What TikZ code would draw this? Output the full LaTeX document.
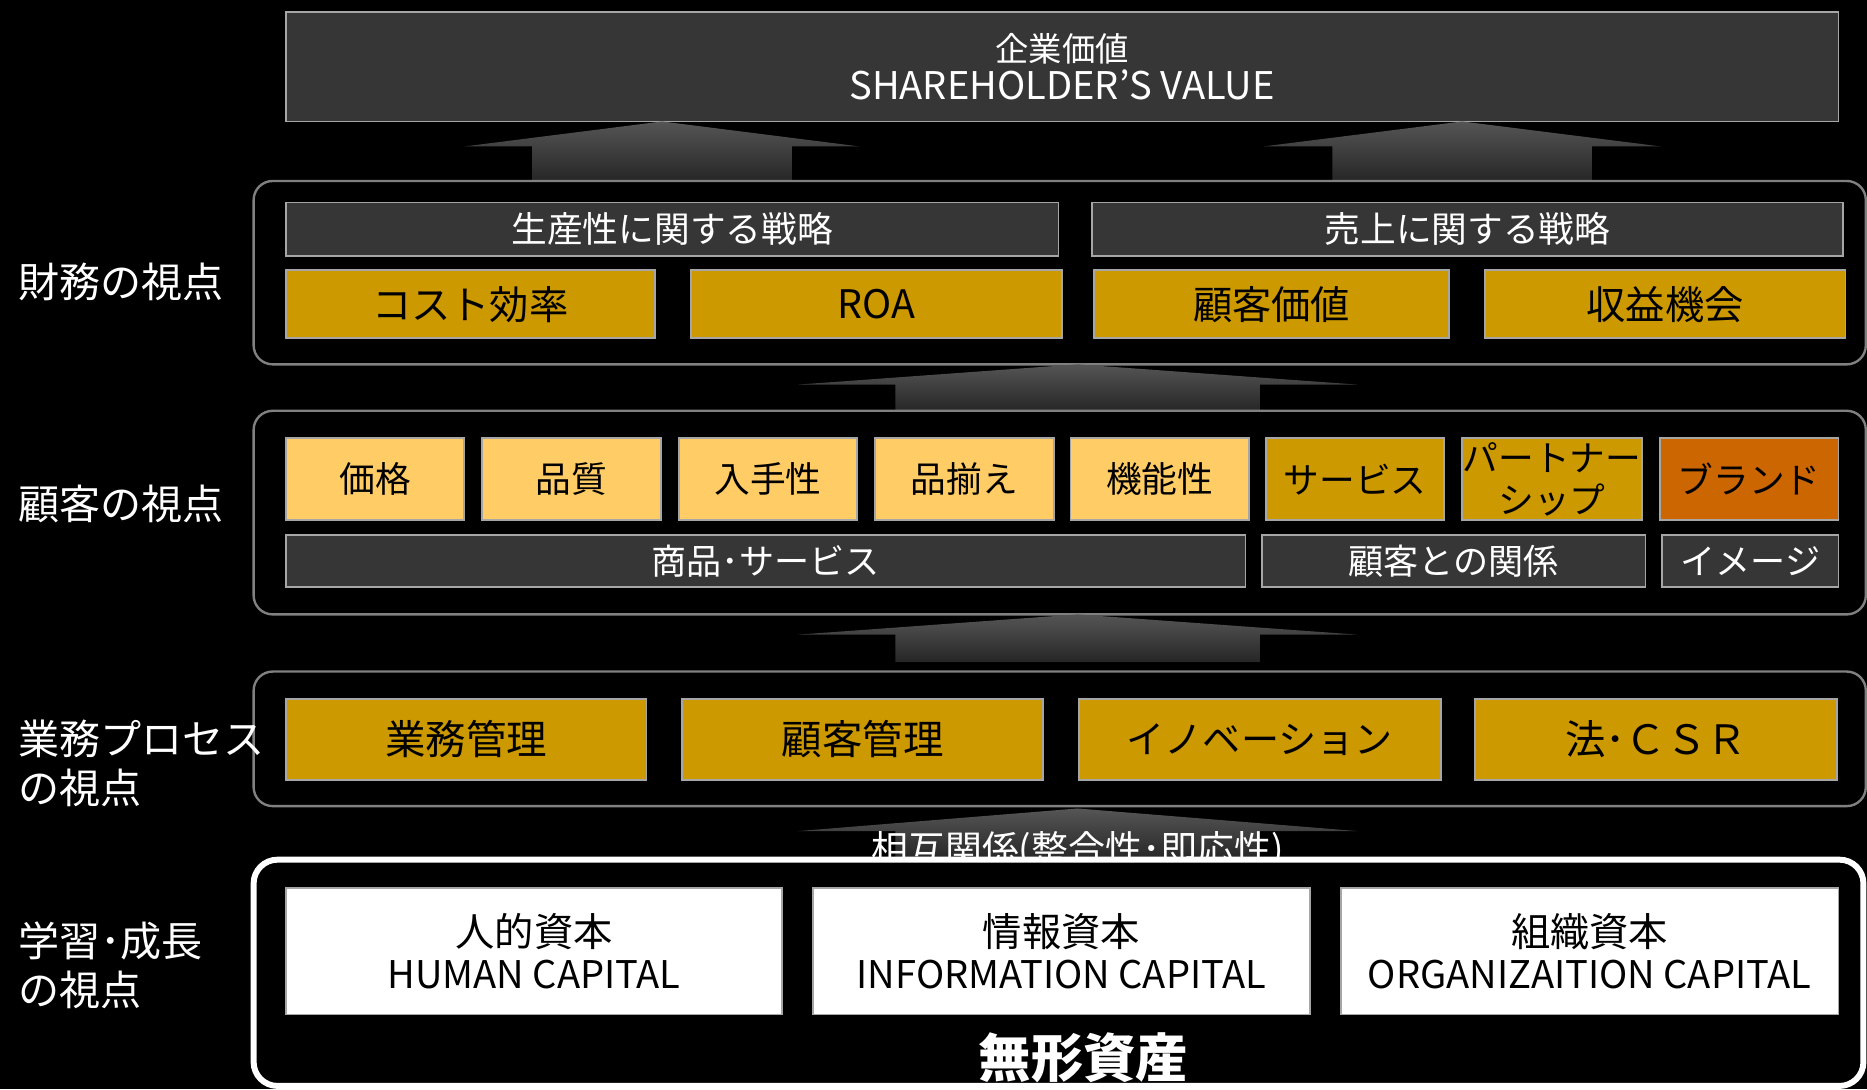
\documentclass[tikz,border=0pt]{standalone}
\usepackage{fontspec}
\setmainfont{Noto Sans CJK JP}
\definecolor{darkfill}{HTML}{363636}
\definecolor{boxline}{HTML}{A6A6A6}
\definecolor{gold}{HTML}{CC9900}
\definecolor{lightgold}{HTML}{FFCC66}
\definecolor{brandorange}{HTML}{CC6600}
\definecolor{frameline}{HTML}{808080}
\definecolor{arrowtop}{HTML}{555555}
\definecolor{arrowbot}{HTML}{262626}
\newcommand{\fsz}[2]{\fontsize{#1}{#2}\selectfont}
\tikzset{
  base/.style={draw=boxline, line width=1.5pt, inner sep=0pt, outer sep=0pt, anchor=center, align=center},
  darkbox/.style={base, fill=darkfill, text=white, font=\fsz{30}{32}},
  goldbox/.style={base, fill=gold, text=black, font=\fsz{33}{36}},
  lightbox/.style={base, fill=lightgold, text=black, font=\fsz{30}{35}},
  orangebox/.style={base, fill=brandorange, text=black, font=\fsz{30}{35}},
  whitebox/.style={base, fill=white, text=black, font=\fsz{32}{35}},
  frame/.style={draw=frameline, fill=black, line width=2pt, rounded corners=16pt, inner sep=0pt, outer sep=0pt},
  persp/.style={text=white, anchor=west, align=left, font=\fsz{34.5}{41}, inner sep=0pt},
  blockarrow/.style={top color=arrowtop, bottom color=arrowbot, draw=none}
}
\newcommand{\barrow}[6]{%
  \shade[blockarrow] (#1,#2) -- (#1+#5,#3) -- (#1+#6,#3) -- (#1+#6,#4)
    -- (#1-#6,#4) -- (#1-#6,#3) -- (#1-#5,#3) -- cycle;}
\begin{document}
\begin{tikzpicture}[x=1pt,y=-1pt]
\fill[black] (0,0) rectangle (1568,915);
\useasboundingbox (0,0) rectangle (1568,915);

% ---------- top ----------
\node[darkbox, font=\fsz{32}{32}, minimum width=1304pt, minimum height=92pt] (top) at (892,56) {{\fsz{28}{32}企業価値}\\SHAREHOLDER’S VALUE};

% arrows to top
\barrow{556}{102}{123}{152}{166}{109}
\barrow{1228}{102}{123}{152}{167}{109}

% ---------- financial ----------
\node[frame, minimum width=1354pt, minimum height=154pt] (finframe) at (890,229) {};
\node[darkbox, minimum width=649pt, minimum height=45pt] (prod) at (564.5,192.5) {生産性に関する戦略};
\node[darkbox, minimum width=631pt, minimum height=45pt] (sales) at (1232.5,192.5) {売上に関する戦略};
\node[goldbox, minimum width=310pt, minimum height=57pt] (cost) at (395,255.5) {\raisebox{-2pt}{コスト効率}};
\node[goldbox, minimum width=312pt, minimum height=57pt] (roa) at (736,255.5) {ROA};
\node[goldbox, minimum width=298pt, minimum height=57pt] (cval) at (1068,255.5) {\raisebox{-2pt}{顧客価値}};
\node[goldbox, minimum width=303pt, minimum height=57pt] (rev) at (1398.5,255.5) {\raisebox{-2pt}{収益機会}};
\node[persp] (lfin) at (15,237) {財務の視点};

% arrow fin <- cust
\barrow{905}{306}{323}{345}{235}{153}

% ---------- customer ----------
\node[frame, minimum width=1354pt, minimum height=171pt] (custframe) at (890,430.5) {};
\node[lightbox, minimum width=150pt, minimum height=69pt] (price) at (315,402.5) {価格};
\node[lightbox, minimum width=150pt, minimum height=69pt] (quality) at (480,402.5) {品質};
\node[lightbox, minimum width=150pt, minimum height=69pt] (avail) at (645,402.5) {入手性};
\node[lightbox, minimum width=150pt, minimum height=69pt] (range) at (810,402.5) {品揃え};
\node[lightbox, minimum width=150pt, minimum height=69pt] (func) at (974,402.5) {機能性};
\node[base, fill=gold, font=\fsz{30}{35}, minimum width=150pt, minimum height=69pt] (serv) at (1138,402.5) {サービス};
\node[base, fill=gold, font=\fsz{30}{35}, minimum width=151pt, minimum height=69pt] (partner) at (1303.5,402.5) {パートナー\\シップ};
\node[orangebox, minimum width=150pt, minimum height=69pt] (brand) at (1469,402.5) {ブランド};
\node[darkbox, font=\fsz{29.5}{32}, minimum width=806pt, minimum height=44pt] (goods) at (643,471) {商品･サービス};
\node[darkbox, font=\fsz{29.5}{32}, minimum width=322pt, minimum height=44pt] (rel) at (1221,471) {顧客との関係};
\node[darkbox, font=\fsz{29.5}{32}, minimum width=148pt, minimum height=44pt] (image) at (1470,471) {イメージ};
\node[persp] (lcust) at (15,423) {顧客の視点};

% arrow cust <- proc
\barrow{905}{516}{533}{556}{235}{153}

% ---------- process ----------
\node[frame, minimum width=1354pt, minimum height=113pt] (procframe) at (890,620.5) {};
\node[goldbox, font=\fsz{34}{38}, minimum width=303pt, minimum height=68pt] (ops) at (391.5,621) {\raisebox{-2pt}{業務管理}};
\node[goldbox, font=\fsz{34}{38}, minimum width=303pt, minimum height=68pt] (crm) at (724.5,621) {\raisebox{-2pt}{顧客管理}};
\node[goldbox, font=\fsz{32}{38}, minimum width=304pt, minimum height=68pt] (innov) at (1058,621) {\raisebox{-2pt}{イノベーション}};
\node[goldbox, font=\fsz{34}{38}, minimum width=304pt, minimum height=68pt] (csr) at (1391,621) {\raisebox{-2pt}{法･ＣＳＲ}};
\node[persp] (lproc) at (15,641) {業務プロセス\\の視点};

% arrow proc <- learning
\barrow{905}{679}{698}{722}{235}{153}
\node[text=white, font=\fsz{31}{32}, inner sep=0pt] (interrel) at (905,714) {相互関係(整合性･即応性)};

% ---------- learning ----------
\node[draw=white, fill=black, line width=5pt, rounded corners=20pt, inner sep=0pt, outer sep=0pt, minimum width=1352pt, minimum height=190pt] (learnframe) at (889,817) {};
\node[whitebox, minimum width=417pt, minimum height=106pt] (human) at (448.5,799) {{\fsz{33}{35}人的資本}\\HUMAN CAPITAL};
\node[whitebox, minimum width=417pt, minimum height=106pt] (info) at (891.5,799) {{\fsz{33}{35}情報資本}\\INFORMATION CAPITAL};
\node[whitebox, minimum width=418pt, minimum height=106pt] (org) at (1335,799) {{\fsz{33}{35}組織資本}\\ORGANIZAITION CAPITAL};
\node[text=white, font=\fsz{44}{48}\bfseries, inner sep=0pt] (intang) at (910,888) {無形資産};
\node[persp] (llearn) at (15,811) {学習･成長\\の視点};
\end{tikzpicture}
\end{document}
